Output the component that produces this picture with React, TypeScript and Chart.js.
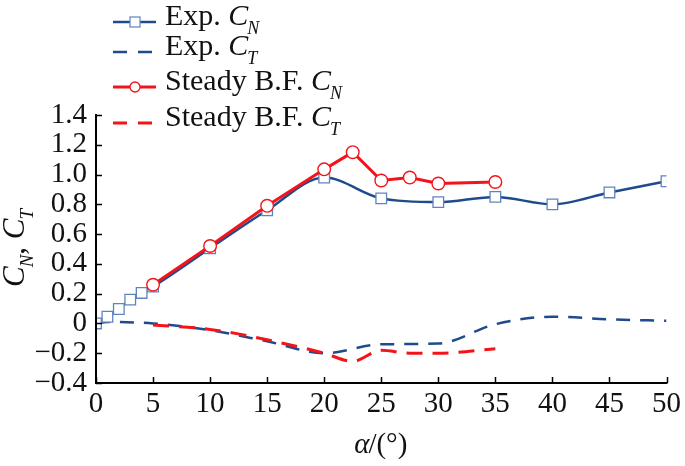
import React, { useEffect, useRef } from "react";
import { Chart, registerables } from "chart.js";

Chart.register(...registerables);

// ---- data ----
const expAlpha = [0, 1, 2, 3, 4, 5, 10, 15, 20, 25, 30, 35, 40, 45, 50];
const expCN = [0.0, 0.045, 0.097, 0.16, 0.205, 0.247, 0.505, 0.76, 0.98, 0.84, 0.815, 0.85, 0.8, 0.88, 0.955];
const expCTAlpha = [0, 1, 5, 10, 15, 20, 25, 30, 35, 40, 45, 50];
const expCT = [0.0, 0.01, 0.0, -0.045, -0.12, -0.2, -0.14, -0.135, -0.005, 0.045, 0.028, 0.018];
const bfAlpha = [5, 10, 15, 20, 22.5, 25, 27.5, 30, 35];
const bfCN = [0.26, 0.52, 0.79, 1.035, 1.15, 0.96, 0.98, 0.94, 0.95];
const bfCT = [-0.01, -0.04, -0.11, -0.2, -0.255, -0.18, -0.2, -0.2, -0.17];
const xTickValues = [0, 5, 10, 15, 20, 25, 30, 35, 40, 45, 50];
const yTickValues = [-0.4, -0.2, 0, 0.2, 0.4, 0.6, 0.8, 1.0, 1.2, 1.4];
const legendLabels = [
  { pre: "Exp. ", sym: "C", sub: "N" },
  { pre: "Exp. ", sym: "C", sub: "T" },
  { pre: "Steady B.F. ", sym: "C", sub: "N" },
  { pre: "Steady B.F. ", sym: "C", sub: "T" },
];
const xTitle = { sym: "α", rest: "/(°)" };
const yTitle = [
  { sym: "C", sub: "N" },
  { sym: "C", sub: "T" },
];

const BLUE = "#1f4b8c";
const BLUE_MARK = "#5f84bd";
const RED = "#f2141a";
const SERIF = "'Liberation Serif', 'Times New Roman', serif";

const toXY = (xs: number[], ys: number[]) => xs.map((x, i) => ({ x, y: ys[i] }));

type Seg = { t: string; italic?: boolean; sub?: boolean };

function drawRich(
  ctx: CanvasRenderingContext2D,
  segs: Seg[],
  x: number,
  y: number,
  size: number,
  align: "left" | "center"
) {
  const subSize = Math.round(size * 0.6);
  const fontOf = (s: Seg) => `${s.italic ? "italic " : ""}${s.sub ? subSize : size}px ${SERIF}`;
  let total = 0;
  for (const s of segs) {
    ctx.font = fontOf(s);
    total += ctx.measureText(s.t).width;
  }
  let cx = align === "center" ? x - total / 2 : x;
  ctx.textBaseline = "alphabetic";
  ctx.textAlign = "left";
  for (const s of segs) {
    ctx.font = fontOf(s);
    ctx.fillText(s.t, cx, s.sub ? y + size * 0.3 : y);
    cx += ctx.measureText(s.t).width + (s.italic && !s.sub ? -1 : 0);
  }
}

const decorPlugin = {
  id: "decor",
  afterDraw(chart: any) {
    const ctx: CanvasRenderingContext2D = chart.ctx;
    const { left, right, top, bottom } = chart.chartArea;
    const xs = chart.scales.x;
    const ys = chart.scales.y;
    ctx.save();
    // axes
    ctx.strokeStyle = "#000";
    ctx.lineWidth = 2;
    ctx.beginPath();
    ctx.moveTo(left, ys.getPixelForValue(yTickValues[yTickValues.length - 1]) - 1);
    ctx.lineTo(left, bottom);
    ctx.lineTo(xs.getPixelForValue(xTickValues[xTickValues.length - 1]) + 1, bottom);
    ctx.stroke();
    // inward ticks
    ctx.lineWidth = 1.5;
    ctx.beginPath();
    for (const v of yTickValues) {
      const py = Math.round(ys.getPixelForValue(v)) + 0.5;
      ctx.moveTo(left, py);
      ctx.lineTo(left + 6, py);
    }
    for (const v of xTickValues) {
      const px = Math.round(xs.getPixelForValue(v)) + 0.5;
      ctx.moveTo(px, bottom);
      ctx.lineTo(px, bottom - 6);
    }
    ctx.stroke();

    // titles
    ctx.fillStyle = "#111";
    drawRich(ctx, [{ t: xTitle.sym, italic: true }, { t: xTitle.rest }], (left + right) / 2, 453, 29, "center");
    ctx.save();
    ctx.translate(24, 247);
    ctx.rotate(-Math.PI / 2);
    drawRich(
      ctx,
      [
        { t: yTitle[0].sym, italic: true },
        { t: yTitle[0].sub, italic: true, sub: true },
        { t: ", " },
        { t: yTitle[1].sym, italic: true },
        { t: yTitle[1].sub, italic: true, sub: true },
      ],
      0,
      0,
      31,
      "center"
    );
    ctx.restore();

    // legend
    const rows = [22, 52, 87, 123];
    const styles = [
      { color: BLUE, dash: [] as number[], marker: "rect", width: 2.5 },
      { color: BLUE, dash: [14, 11], marker: "", width: 2.5 },
      { color: RED, dash: [] as number[], marker: "circle", width: 3 },
      { color: RED, dash: [14, 11], marker: "", width: 3 },
    ];
    legendLabels.forEach((lab, i) => {
      const y = rows[i];
      const st = styles[i];
      ctx.strokeStyle = st.color;
      ctx.lineWidth = st.width;
      ctx.setLineDash(st.dash);
      ctx.beginPath();
      ctx.moveTo(113, y);
      ctx.lineTo(156, y);
      ctx.stroke();
      ctx.setLineDash([]);
      if (st.marker === "rect") {
        ctx.fillStyle = "#fff";
        ctx.fillRect(130, y - 5, 10, 10);
        ctx.strokeStyle = BLUE_MARK;
        ctx.lineWidth = 1.2;
        ctx.strokeRect(130, y - 5, 10, 10);
      } else if (st.marker === "circle") {
        ctx.fillStyle = "#fff";
        ctx.beginPath();
        ctx.arc(135, y, 5, 0, Math.PI * 2);
        ctx.fill();
        ctx.strokeStyle = RED;
        ctx.lineWidth = 1.3;
        ctx.stroke();
      }
      ctx.fillStyle = "#111";
      drawRich(
        ctx,
        [{ t: lab.pre }, { t: lab.sym, italic: true }, { t: lab.sub, italic: true, sub: true }],
        165,
        y + 2.5,
        30,
        "left"
      );
    });
    ctx.restore();
  },
};

export default function App() {
  const ref = useRef<HTMLCanvasElement | null>(null);
  useEffect(() => {
    document.body.style.margin = "0";
    const canvas = ref.current!;
    const chart = new Chart(canvas, {
      type: "line",
      data: {
        datasets: [
          {
            label: "Exp. CN",
            data: toXY(expAlpha, expCN),
            borderColor: BLUE,
            borderWidth: 2.5,
            cubicInterpolationMode: "monotone",
            pointStyle: "rect",
            pointRadius: 7.5,
            pointBorderWidth: 1.3,
            pointBorderColor: BLUE_MARK,
            pointBackgroundColor: "#fff",
            order: 3,
          },
          {
            label: "Exp. CT",
            data: toXY(expCTAlpha, expCT),
            borderColor: BLUE,
            borderWidth: 2.5,
            borderDash: [14, 10],
            cubicInterpolationMode: "monotone",
            pointRadius: 0,
            order: 4,
          },
          {
            label: "Steady B.F. CN",
            data: toXY(bfAlpha, bfCN),
            borderColor: RED,
            borderWidth: 3,
            tension: 0,
            pointStyle: "circle",
            pointRadius: 6.3,
            pointBorderWidth: 1.4,
            pointBorderColor: RED,
            pointBackgroundColor: "#fff",
            order: 1,
          },
          {
            label: "Steady B.F. CT",
            data: toXY(bfAlpha, bfCT),
            borderColor: RED,
            borderWidth: 3,
            borderDash: [16, 10],
            cubicInterpolationMode: "monotone",
            pointRadius: 0,
            order: 2,
          },
        ],
      },
      options: {
        animation: false,
        responsive: false,
        maintainAspectRatio: false,
        layout: { padding: { left: 0, top: 115, right: 15, bottom: 0 } },
        plugins: { legend: { display: false }, tooltip: { enabled: false } },
        scales: {
          x: {
            type: "linear",
            min: 0,
            max: 50,
            afterFit: (s: any) => {
              s.height = 83;
            },
            afterBuildTicks: (s: any) => {
              s.ticks = xTickValues.map((v) => ({ value: v }));
            },
            grid: { display: false, drawTicks: false },
            border: { display: false },
            ticks: {
              padding: 4,
              color: "#111",
              font: { family: SERIF, size: 29 },
              maxRotation: 0,
              autoSkip: false,
              callback: (v: any) => String(v),
            },
          },
          y: {
            type: "linear",
            min: -0.4,
            max: 1.4,
            afterFit: (s: any) => {
              s.width = 96;
            },
            afterBuildTicks: (s: any) => {
              s.ticks = yTickValues.map((v) => ({ value: v }));
            },
            grid: { display: false, drawTicks: false },
            border: { display: false },
            ticks: {
              padding: 9,
              color: "#111",
              font: { family: SERIF, size: 29 },
              autoSkip: false,
              callback: (v: any) => {
                const r = Math.round(Number(v) * 10) / 10;
                if (r === 0) return "0";
                return r < 0 ? "\u2212" + Math.abs(r).toFixed(1) : r.toFixed(1);
              },
            },
          },
        },
      },
      plugins: [decorPlugin],
    } as any);
    return () => chart.destroy();
  }, []);
  return <canvas ref={ref} width={685} height={466} style={{ display: "block" }} />;
}
